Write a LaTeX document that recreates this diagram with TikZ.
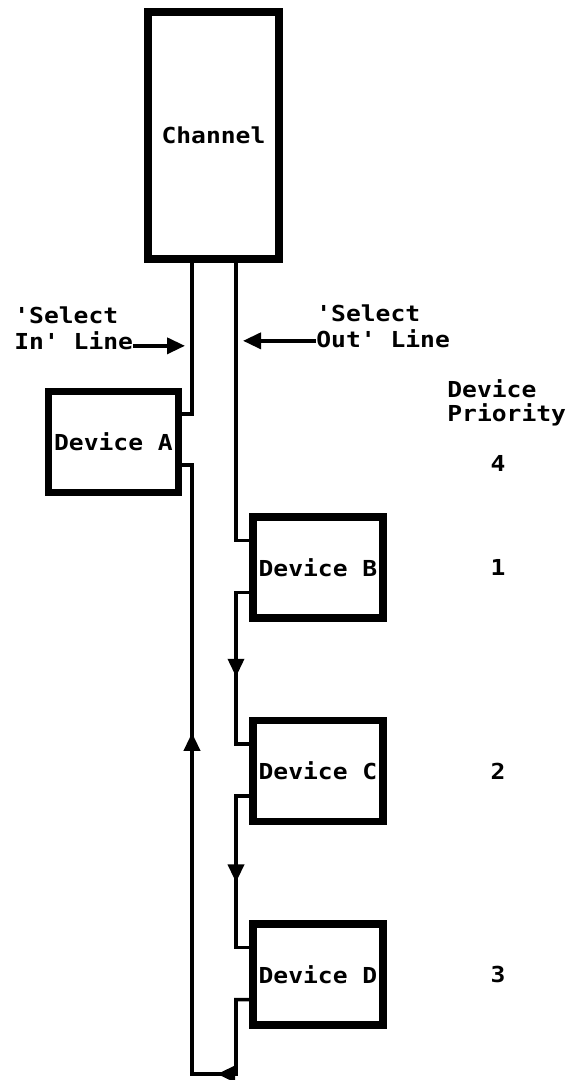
\documentclass[tikz,border=0pt]{standalone}
\usepackage{fontspec}
\setmonofont[FakeStretch=1.12]{DejaVu Sans Mono}
\usetikzlibrary{arrows.meta, positioning, calc}
\tikzset{
  box/.style={
    draw,
    rectangle,
    line width=3.8pt,
    inner sep=0pt,
    font=\ttfamily\bfseries\fontsize{11}{13}\selectfont
  },
  device/.style={
    box,
    minimum width=65pt,
    minimum height=50.5pt
  },
  linelabel/.style={
    inner sep=0pt,
    align=left,
    font=\ttfamily\bfseries\fontsize{11}{13}\selectfont
  },
  wire/.style={
    line width=1.8pt
  },
  flow/.style={
    wire,
    -{Triangle[length=9pt,width=8pt]}
  }
}

\begin{document}
\begin{tikzpicture}[x=0.5pt, y=-0.5pt]
\useasboundingbox (0,0) rectangle (566,1080);

% --- Channel and devices ---
\node[box, minimum width=65.75pt, minimum height=123.75pt] (chan) at (213.5,135.5) {Channel};
\node[device] (devA) at (113.5,442) {Device A};
\node[device] (devB) at (318,567.5) {Device B};
\node[device, below=47.5pt of devB] (devC) {Device C};
\node[device, below=47.5pt of devC] (devD) {Device D};

% --- Positions of the two lines ---
\coordinate (inx) at (192,0);
\coordinate (outx) at (236,0);

% --- Jog points on the devices ---
\coordinate (aIn) at ($(devA.north east)!0.24!(devA.south east)$);
\coordinate (aOut) at ($(devA.north east)!0.71!(devA.south east)$);
\foreach \d in {devB,devC,devD} {
  \coordinate (\d-in) at ($(\d.north west)!0.25!(\d.south west)$);
  \coordinate (\d-out) at ($(\d.north west)!0.73!(\d.south west)$);
}

% --- Arrow tips ---
\coordinate (tipB) at ($(devB.south -| outx)+(0,55)$);
\coordinate (tipC) at ($(devC.south -| outx)+(0,57)$);
\coordinate (botR) at ($(devD.south -| outx)+(0,45)$);
\coordinate (botL) at (botR -| inx);
\coordinate (tipL) at ($(botR)!0.43!(botL)$);
\coordinate (tipUp) at ($(devC.north -| inx)+(0,16)$);

% --- Select out chain ---
\draw[wire] (chan.south -| outx) |- (devB-in);
\draw[wire] (devB-out) -| (tipB) |- (devC-in);
\draw[flow] (devB-out) -| (tipB);
\draw[wire] (devC-out) -| (tipC) |- (devD-in);
\draw[flow] (devC-out) -| (tipC);
\draw[wire] (devD-out) -| (botR) -- (botL) |- (aOut);
\draw[flow] (devD-out) -| (botR) -- (tipL);
\draw[flow] (botL) -- (tipUp);

% --- Select in ---
\draw[wire] (chan.south -| inx) |- (aIn);

% --- Labels ---
\node[linelabel, anchor=north west] (selin) at (14,306) {'Select\\In' Line};
\node[linelabel, anchor=north west] (selout) at (316,304) {'Select\\Out' Line};
\node[linelabel, anchor=north west, font=\ttfamily\bfseries\fontsize{11}{12}\selectfont] (prio) at (447,379) {Device\\Priority};

\coordinate (inarr) at ($(selin.south east)+(0,-4)$);
\coordinate (outarr) at ($(selout.south west)+(0,-7)$);
\draw[flow, shorten >=3.5pt] (inarr) -- (inarr -| inx);
\draw[flow, shorten >=3.5pt] (outarr) -- (outarr -| outx);

% --- Priorities ---
\coordinate (pcol) at (498,0);
\node[linelabel] (p4) at (498,463) {4};
\node[linelabel] (p1) at (devB -| pcol) {1};
\node[linelabel] (p2) at (devC -| pcol) {2};
\node[linelabel] (p3) at (devD -| pcol) {3};

\end{tikzpicture}
\end{document}
